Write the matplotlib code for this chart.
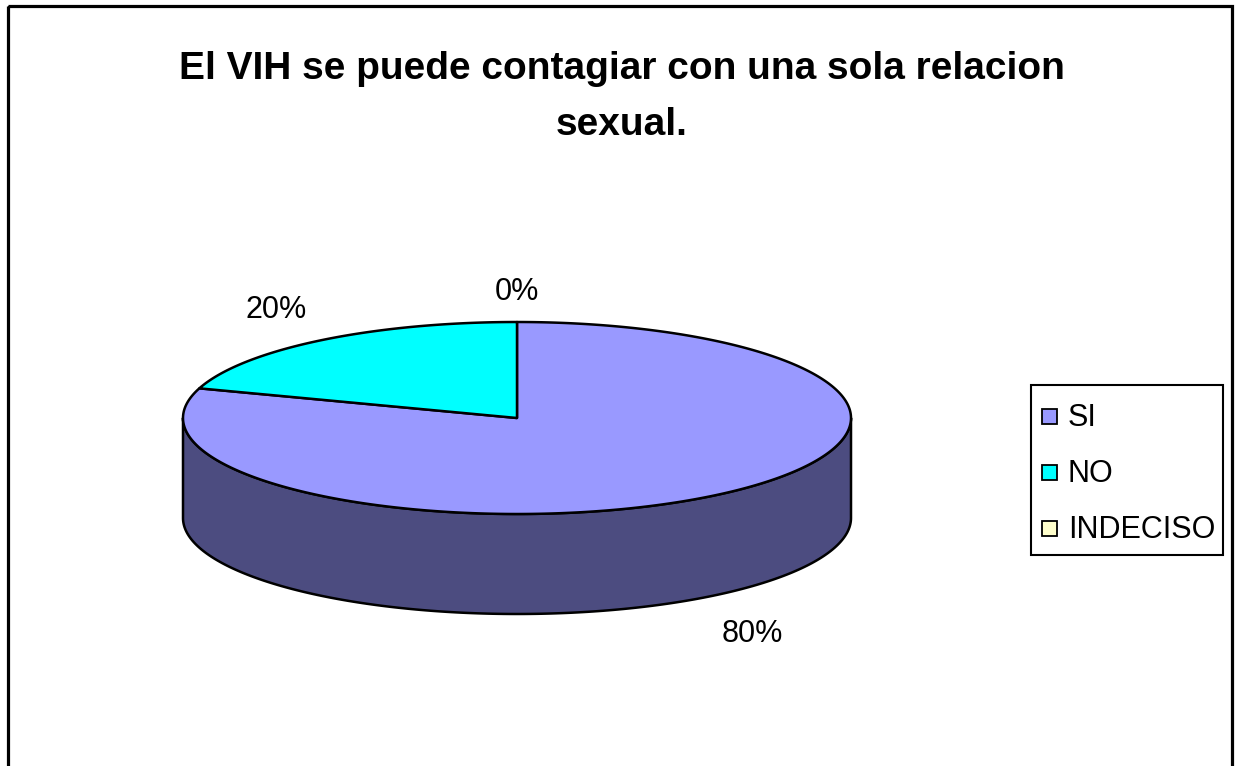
import numpy as np
import matplotlib
matplotlib.use("Agg")
import matplotlib.pyplot as plt
from matplotlib.patches import Polygon, Rectangle

plt.rcParams['font.family'] = ['Liberation Sans', 'DejaVu Sans']

# ---- data ----
title = "El VIH se puede contagiar con una sola relacion\nsexual."
categories = ["SI", "NO", "INDECISO"]
values = [80, 20, 0]
labels = ["80%", "20%", "0%"]
top_colors = ["#9999FF", "#00FFFF", "#FFFFCC"]
side_colors = ["#4C4C80", "#008080", "#808066"]

W, H = 1240, 766
fig = plt.figure(figsize=(W / 100, H / 100), dpi=100)
ax = fig.add_axes([0, 0, 1, 1])
ax.set_xlim(0, W)
ax.set_ylim(H, 0)
ax.axis("off")

# outer border (bottom edge falls outside the image)
ax.add_patch(Rectangle((8, 6), 1224, 780, fill=False, lw=2.3, ec="black", zorder=1))

ax.text(622, 97, title, ha="center", va="center", fontsize=28, fontweight="bold",
        linespacing=1.68, zorder=5)

# ---- 3D pie geometry ----
cx, cy, rx, ry, depth = 517, 418, 334, 96, 100
lw = 1.8


def ell(theta_deg, dz=0.0):
    t = np.radians(theta_deg)
    return cx + rx * np.cos(t), cy - ry * np.sin(t) + dz


total = float(sum(values))
start = 90.0
wedges = []
for v in values:
    sweep = 360.0 * v / total
    wedges.append((start - sweep, start))  # clockwise from 12 o'clock
    start -= sweep

# side walls: visible front half (180..360 deg), for each wedge portion
for (a0, a1), sc in zip(wedges, side_colors):
    if a1 - a0 <= 0:
        continue
    for k in (-360, 0, 360):
        lo = max(a0 + k, 180)
        hi = min(a1 + k, 360)
        if hi > lo:
            th = np.linspace(lo, hi, 200)
            xs, ys = ell(th)
            top = np.column_stack([xs, ys])
            bot = np.column_stack([xs[::-1], ys[::-1] + depth])
            ax.add_patch(Polygon(np.vstack([top, bot]), closed=True, fc=sc,
                                 ec="black", lw=lw, joinstyle="round", zorder=2))

# top faces
for (a0, a1), tc in zip(wedges, top_colors):
    if a1 - a0 <= 0:
        continue
    th = np.linspace(a0, a1, 400)
    xs, ys = ell(th)
    pts = np.vstack([[cx, cy], np.column_stack([xs, ys])])
    ax.add_patch(Polygon(pts, closed=True, fc=tc, ec="black", lw=lw,
                         joinstyle="round", zorder=3))

# percentage labels
for (a0, a1), lab in zip(wedges, labels):
    mid = np.radians((a0 + a1) / 2.0)
    s = np.sin(mid)
    c = np.cos(mid)
    x = cx + rx * (1.2 if c >= 0 else 1.225) * c
    y = cy - ry * s
    if s < 0:
        y += depth + 38
    else:
        y -= 30
    ax.text(x, y, lab, ha="center", va="center", fontsize=22, zorder=5)

# legend
lx0, ly0, lw_box, lh_box = 1031, 385, 192, 170
ax.add_patch(Rectangle((lx0, ly0), lw_box, lh_box, fill=True, fc="white",
                       ec="black", lw=1.5, zorder=4))
row_y = [416, 472, 528]
for yv, name, c in zip(row_y, categories, top_colors):
    ax.add_patch(Rectangle((1042, yv - 7.5), 15, 15, fc=c, ec="black", lw=1.3, zorder=5))
    ax.text(1068, yv + 2, name, ha="left", va="center", fontsize=22, zorder=5)

fig.savefig("out.png", dpi=100, facecolor="white")
